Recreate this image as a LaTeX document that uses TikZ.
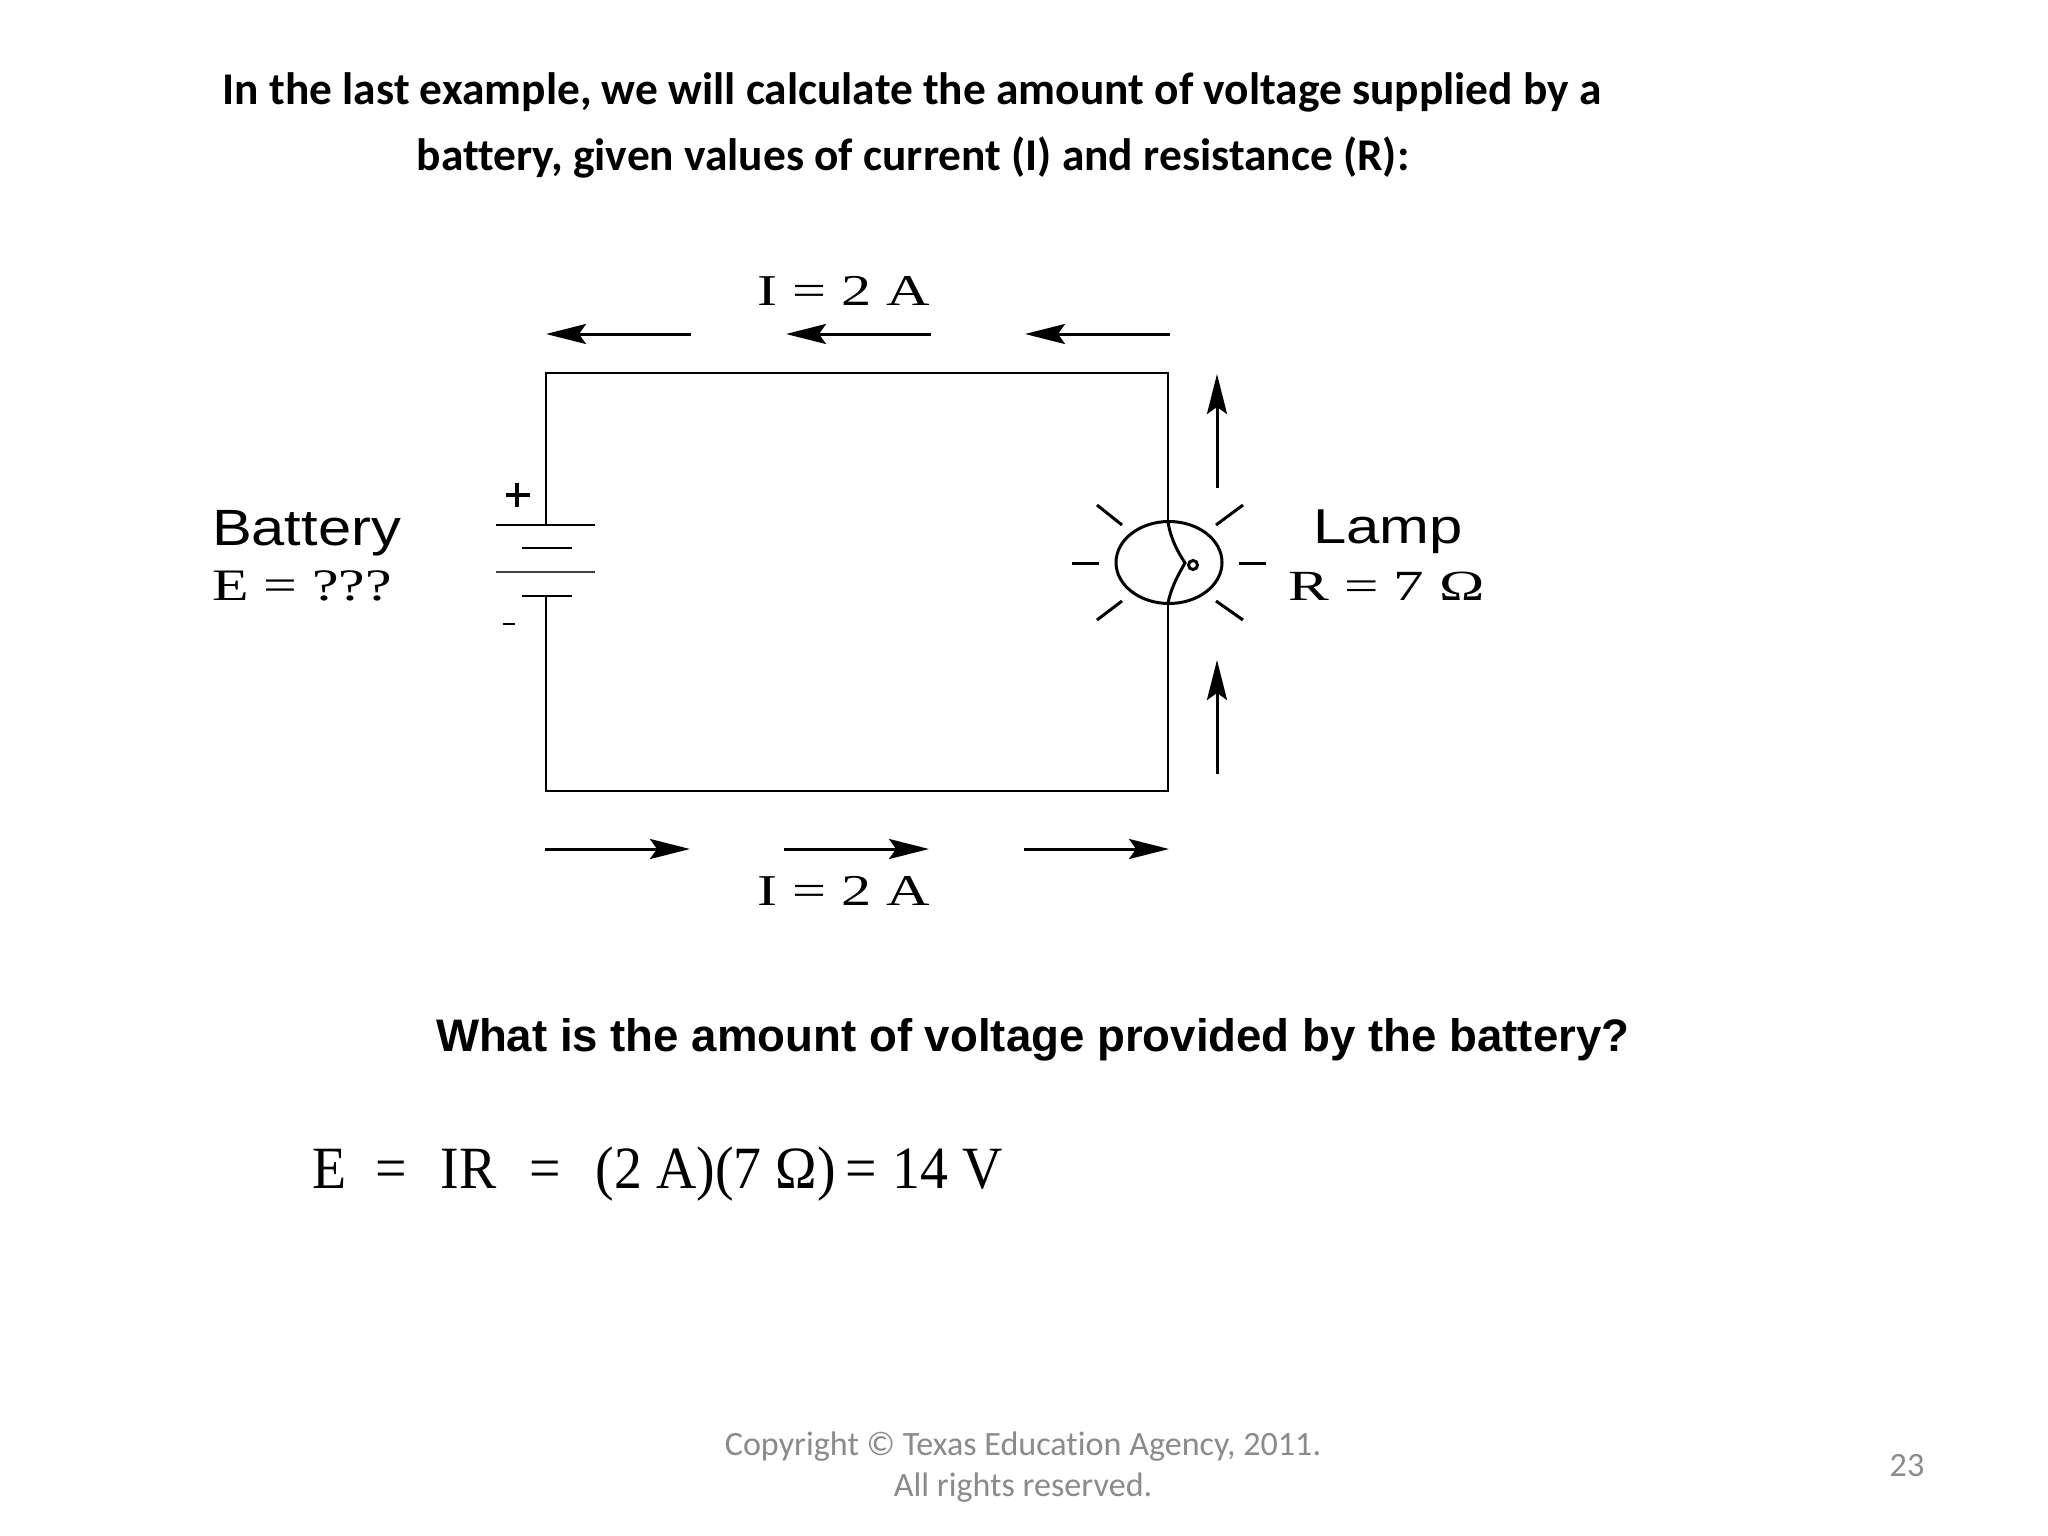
\documentclass[tikz,border=0pt]{standalone}
\usepackage{fontspec}
\usepackage{graphicx}
\usetikzlibrary{arrows.meta}
\setmainfont{Liberation Serif}
\newfontfamily\calfont[Ligatures=NoCommon]{Carlito}
\newfontfamily\arialfont{Liberation Sans}
\newcommand{\fsz}[1]{\fontsize{#1}{#1}\selectfont}
\tikzset{
  x=1pt,y=-1pt,
  txt/.style={inner sep=0pt,outer sep=0pt,anchor=base,text=black},
  wire/.style={line width=2.9pt,draw=black,line cap=butt},
  thin wire/.style={line width=2.8pt,draw=black},
  ray/.style={line width=3pt,draw=black},
  current/.style={line width=3pt,draw=black,-{Stealth[length=40pt,width=20pt,inset=7pt]}},
  title/.style={txt,font=\calfont\bfseries\fsz{45.4}},
  foot/.style={txt,text=footgray,font=\calfont\fsz{34.1}},
}
\definecolor{footgray}{HTML}{8B8B8B}
\begin{document}
\begin{tikzpicture}
\useasboundingbox (0,0) rectangle (2048,1536);
\fill[white] (0,0) rectangle (2048,1536);
% headings
\node[title] (t1) at (912,105) {In the last example, we will calculate the amount of voltage supplied by a};
\node[title] (t2) at (913,170) {battery, given values of current (I) and resistance (R):};
% circuit corners
\coordinate (tl) at (546,373);
\coordinate (tr) at (1168,373);
\coordinate (bl) at (546,791);
\coordinate (br) at (1168,791);
\coordinate (batT) at (546,525);
\coordinate (batB) at (546,596);
\coordinate (lampT) at (1168,522);
\coordinate (lampB) at (1168,603);
\draw[wire] (batT) -- (tl) -- (tr) -- (lampT);
\draw[wire] (batB) -- (bl) -- (br) -- (lampB);
% battery plates
\draw[wire] (496,525) -- (595,525);
\draw[thin wire] (522,548) -- (572,548);
\draw[wire,draw=black!75] (496,572) -- (595,572);
\draw[thin wire] (522,596) -- (572,596);
\draw[line width=3.8pt] (506,495) -- (530,495) (517,483) -- (517,507);
\draw[line width=2.8pt] (503,624) -- (515,624);
% lamp
\draw[ray] (1169,562.5) ellipse [x radius=53,y radius=41];
\draw[ray] (lampT) .. controls (1171,540) and (1178,552) .. (1185,563) .. controls (1178,575) and (1171,588) .. (lampB);
\draw[ray] (1193,565) circle (4.5);
\draw[ray] (1072,563) -- (1099,563);
\draw[ray] (1239,563) -- (1266,563);
\draw[ray] (1097,505) -- (1122,525);
\draw[ray] (1216,525) -- (1243,505);
\draw[ray] (1122,601) -- (1097,620);
\draw[ray] (1216,601) -- (1243,620);
% current arrows
\coordinate (a1s) at (691,334); \coordinate (a1e) at (546,334);
\coordinate (a2s) at (931,334); \coordinate (a2e) at (786,334);
\coordinate (a3s) at (1170,334); \coordinate (a3e) at (1025,334);
\coordinate (b1s) at (545,849); \coordinate (b1e) at (690,849);
\coordinate (b2s) at (784,849); \coordinate (b2e) at (929,849);
\coordinate (b3s) at (1024,849); \coordinate (b3e) at (1169,849);
\coordinate (r1s) at (1217,488); \coordinate (r1e) at (1217,374);
\coordinate (r2s) at (1217,774); \coordinate (r2e) at (1217,660);
\foreach \s/\e in {a1s/a1e,a2s/a2e,a3s/a3e,b1s/b1e,b2s/b2e,b3s/b3e,r1s/r1e,r2s/r2e}
  \draw[current] (\s) -- (\e);
% labels
\node[txt] (itop) at (844,305) {\fsz{44}\scalebox{1.37}[1]{I = 2 A}};
\node[txt] (ibot) at (844,905) {\fsz{44}\scalebox{1.37}[1]{I = 2 A}};
\node[txt,anchor=base west] (batl) at (212,545) {\arialfont\fsz{51}\scalebox{1.17}[1]{Battery}};
\node[txt,anchor=base west] (bate) at (212,600) {\fsz{45}\scalebox{1.33}[1]{E = ???}};
\node[txt,anchor=base west] (lampl) at (1313,543) {\arialfont\fsz{49}\scalebox{1.22}[1]{Lamp}};
\node[txt,anchor=base west] (lampr) at (1288,600) {\fsz{43}\scalebox{1.42}[1]{R = 7 Ω}};
% question and answer
\node[txt,anchor=base west] (q) at (436,1051) {\arialfont\bfseries\fsz{45.6}What is the amount of voltage provided by the battery?};
\node[txt,anchor=base west] (eq) at (312,1188) {\fsz{60}\scalebox{.93}[1]{E\hspace{32pt}=\hspace{36pt}IR\hspace{35pt}=\hspace{38pt}(2 A)(7 Ω)\hspace{10pt}=\hspace{17pt}14 V}};
% footer
\node[foot] (f1) at (1023,1455) {Copyright © Texas Education Agency, 2011.};
\node[foot] (f2) at (1023,1496) {All rights reserved.};
\node[foot] (pg) at (1907,1476) {23};
\end{tikzpicture}
\end{document}
